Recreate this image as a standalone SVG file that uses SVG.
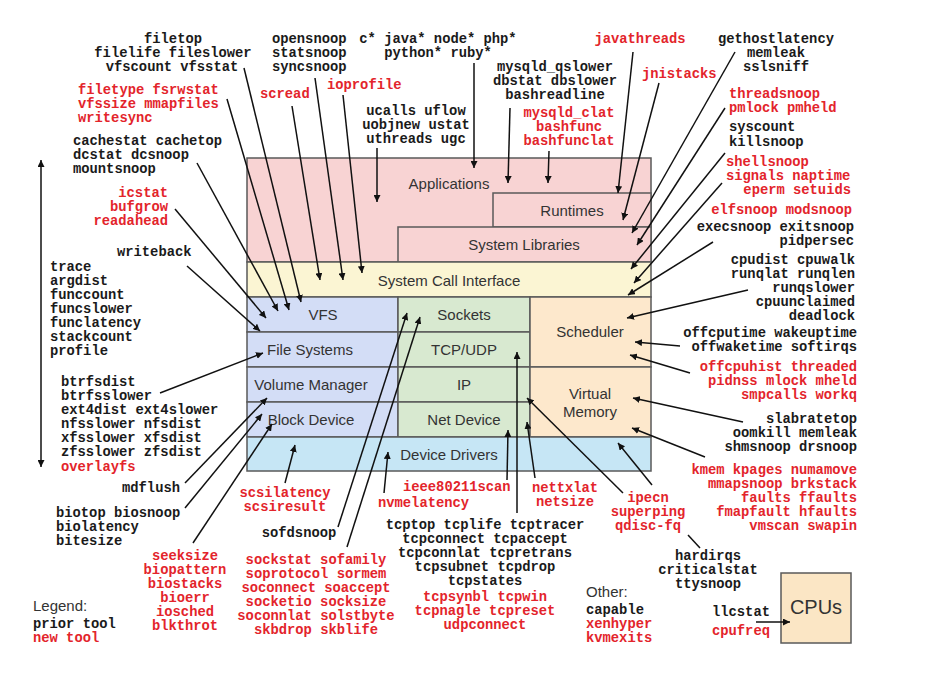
<svg xmlns="http://www.w3.org/2000/svg" width="942" height="674" viewBox="0 0 942 674">
<style>
.t{font-family:"Liberation Mono","DejaVu Sans Mono",monospace;font-weight:bold;font-size:13.8px;fill:#1a1a1a}
.r{fill:#e3242b}
.m{text-anchor:middle}
.e{text-anchor:end}
.l{font-family:"Liberation Sans",Arial,sans-serif;font-size:15px;fill:#333;text-anchor:middle}
.box{stroke:#5a5a5a;stroke-width:1.5}
.c line{stroke:#111;stroke-width:1.5;marker-end:url(#ah)}
</style>
<defs>
<marker id="ah" viewBox="0 0 10 10" refX="10" refY="5" markerWidth="7" markerHeight="7" orient="auto" markerUnits="userSpaceOnUse">
<path d="M0,0 L10,5 L0,10 z" fill="#111"/>
</marker>
</defs>
<rect width="942" height="674" fill="#fff"/>

<g id="applications"><rect class="box" x="247" y="158" width="404" height="104" fill="#f8d3d3"/><text class="l" x="449" y="189">Applications</text></g>
<g id="runtimes"><rect class="box" x="493" y="193" width="158" height="34" fill="#f8d3d3"/><text class="l" x="572" y="216">Runtimes</text></g>
<g id="syslibs"><rect class="box" x="398" y="227" width="253" height="35" fill="#f8d3d3"/><text class="l" x="524" y="250">System Libraries</text></g>
<g id="sci"><rect class="box" x="247" y="262" width="404" height="35" fill="#fbf5d3"/><text class="l" x="449" y="286">System Call Interface</text></g>
<g id="vfs"><rect class="box" x="247" y="297" width="151" height="35" fill="#d3ddf6"/><text class="l" x="323" y="320">VFS</text></g>
<g id="fs"><rect class="box" x="247" y="332" width="151" height="35" fill="#d3ddf6"/><text class="l" x="310" y="355">File Systems</text></g>
<g id="volmgr"><rect class="box" x="247" y="367" width="151" height="35" fill="#d3ddf6"/><text class="l" x="311" y="390">Volume Manager</text></g>
<g id="blockdev"><rect class="box" x="247" y="402" width="151" height="35" fill="#d3ddf6"/><text class="l" x="311" y="425">Block Device</text></g>
<g id="sockets"><rect class="box" x="398" y="297" width="132" height="35" fill="#d8e9d0"/><text class="l" x="464" y="320">Sockets</text></g>
<g id="tcpudp"><rect class="box" x="398" y="332" width="132" height="35" fill="#d8e9d0"/><text class="l" x="464" y="355">TCP/UDP</text></g>
<g id="ip"><rect class="box" x="398" y="367" width="132" height="35" fill="#d8e9d0"/><text class="l" x="464" y="390">IP</text></g>
<g id="netdev"><rect class="box" x="398" y="402" width="132" height="35" fill="#d8e9d0"/><text class="l" x="464" y="425">Net Device</text></g>
<g id="scheduler"><rect class="box" x="530" y="297" width="121" height="70" fill="#fde8cc"/><text class="l" x="590" y="337">Scheduler</text></g>
<g id="vm"><rect class="box" x="530" y="367" width="121" height="70" fill="#fde8cc"/><text class="l" x="590" y="399">Virtual</text><text class="l" x="590" y="417">Memory</text></g>
<g id="drivers"><rect class="box" x="247" y="437" width="404" height="34" fill="#c6e6f5"/><text class="l" x="449" y="460">Device Drivers</text></g>
<g id="cpus"><rect class="box" x="781" y="573" width="70" height="70" fill="#fbe6c5"/><text class="l" x="816" y="614" style="font-size:20px">CPUs</text></g>

<g id="t-filetop" class="t m"><text x="173" y="43">filetop</text><text x="173" y="57">filelife fileslower</text><text x="172" y="71">vfscount vfsstat</text></g>
<g id="t-filetype" class="t r"><text x="78" y="94">filetype fsrwstat</text><text x="78" y="108">vfssize mmapfiles</text><text x="78" y="122">writesync</text></g>
<g id="t-cachestat" class="t"><text x="73" y="145">cachestat cachetop</text><text x="73" y="159">dcstat dcsnoop</text><text x="73" y="173">mountsnoop</text></g>
<g id="t-icstat" class="t r e"><text x="168" y="197">icstat</text><text x="168" y="211">bufgrow</text><text x="168" y="225">readahead</text></g>
<g id="t-writeback" class="t"><text x="117" y="256">writeback</text></g>
<g id="t-trace" class="t"><text x="50" y="271">trace</text><text x="50" y="285">argdist</text><text x="50" y="299">funccount</text><text x="50" y="313">funcslower</text><text x="50" y="327">funclatency</text><text x="50" y="341">stackcount</text><text x="50" y="355">profile</text></g>
<g id="t-btrfs" class="t"><text x="61" y="386">btrfsdist</text><text x="61" y="400">btrfsslower</text><text x="61" y="414">ext4dist ext4slower</text><text x="61" y="428">nfsslower nfsdist</text><text x="61" y="442">xfsslower xfsdist</text><text x="61" y="456">zfsslower zfsdist</text><text class="r" x="61" y="471">overlayfs</text></g>
<g id="t-mdflush" class="t e"><text x="180" y="492">mdflush</text></g>
<g id="t-biotop" class="t"><text x="56" y="517">biotop biosnoop</text><text x="56" y="531">biolatency</text><text x="56" y="545">bitesize</text></g>
<g id="t-seeksize" class="t r m"><text x="185" y="560">seeksize</text><text x="185" y="574">biopattern</text><text x="185" y="588">biostacks</text><text x="185" y="602">bioerr</text><text x="185" y="616">iosched</text><text x="185" y="630">blkthrot</text></g>
<g id="legend"><text x="33" y="611" style="font-family:'Liberation Sans',Arial,sans-serif;font-size:15px;fill:#333">Legend:</text><text class="t" x="33" y="628">prior tool</text><text class="t r" x="33" y="642">new tool</text></g>
<g id="t-opensnoop" class="t"><text x="272" y="43">opensnoop</text><text x="272" y="57">statsnoop</text><text x="272" y="71">syncsnoop</text></g>
<g id="t-scread" class="t r"><text x="260" y="98">scread</text></g>
<g id="t-ioprofile" class="t r"><text x="327" y="89">ioprofile</text></g>
<g id="t-lang" class="t m"><text x="438" y="43">c* java* node* php*</text><text x="438" y="57">python* ruby*</text></g>
<g id="t-ucalls" class="t m"><text x="416" y="115">ucalls uflow</text><text x="416" y="129">uobjnew ustat</text><text x="416" y="143">uthreads ugc</text></g>
<g id="t-mysqld" class="t m"><text x="555" y="71">mysqld_qslower</text><text x="555" y="85">dbstat dbslower</text><text x="555" y="99">bashreadline</text></g>
<g id="t-bashfunc" class="t r m"><text x="569" y="117">mysqld_clat</text><text x="569" y="131">bashfunc</text><text x="569" y="145">bashfunclat</text></g>
<g id="t-javathreads" class="t r m"><text x="640" y="43">javathreads</text></g>
<g id="t-jnistacks" class="t r"><text x="642" y="78">jnistacks</text></g>
<g id="t-gethost" class="t m"><text x="776" y="43">gethostlatency</text><text x="776" y="57">memleak</text><text x="776" y="71">sslsniff</text></g>
<g id="t-threadsnoop" class="t r"><text x="729" y="98">threadsnoop</text><text x="729" y="112">pmlock pmheld</text></g>
<g id="t-syscount" class="t"><text x="729" y="131">syscount</text><text x="729" y="146">killsnoop</text></g>
<g id="t-shellsnoop" class="t r"><text x="726" y="166">shellsnoop</text><text x="726" y="180">signals naptime</text><text x="851" y="194" class="e">eperm setuids</text></g>
<g id="t-elfsnoop" class="t r e"><text x="852" y="214">elfsnoop modsnoop</text></g>
<g id="t-execsnoop" class="t e"><text x="854" y="231">execsnoop exitsnoop</text><text x="854" y="245">pidpersec</text></g>
<g id="t-cpudist" class="t e"><text x="855" y="264">cpudist cpuwalk</text><text x="855" y="278">runqlat runqlen</text><text x="855" y="292">runqslower</text><text x="855" y="306">cpuunclaimed</text><text x="855" y="320">deadlock</text></g>
<g id="t-offcpu" class="t e"><text x="857" y="337">offcputime wakeuptime</text><text x="857" y="351">offwaketime softirqs</text></g>
<g id="t-offcpuhist" class="t r e"><text x="857" y="371">offcpuhist threaded</text><text x="857" y="385">pidnss mlock mheld</text><text x="857" y="399">smpcalls workq</text></g>
<g id="t-slab" class="t e"><text x="857" y="423">slabratetop</text><text x="857" y="437">oomkill memleak</text><text x="857" y="451">shmsnoop drsnoop</text></g>
<g id="t-kmem" class="t r e"><text x="857" y="474">kmem kpages numamove</text><text x="857" y="488">mmapsnoop brkstack</text><text x="857" y="502">faults ffaults</text><text x="857" y="516">fmapfault hfaults</text><text x="857" y="530">vmscan swapin</text></g>
<g id="t-scsi" class="t r m"><text x="285" y="497">scsilatency</text><text x="285" y="511">scsiresult</text></g>
<g id="t-sofdsnoop" class="t m"><text x="299" y="537">sofdsnoop</text></g>
<g id="t-sockstat" class="t r m"><text x="316" y="564">sockstat sofamily</text><text x="316" y="578">soprotocol sormem</text><text x="316" y="592">soconnect soaccept</text><text x="316" y="606">socketio socksize</text><text x="316" y="620">soconnlat solstbyte</text><text x="316" y="634">skbdrop skblife</text></g>
<g id="t-ieee" class="t r"><text x="403" y="491">ieee80211scan</text></g>
<g id="t-nvme" class="t r"><text x="378" y="507">nvmelatency</text></g>
<g id="t-tcp" class="t m"><text x="485" y="529">tcptop tcplife tcptracer</text><text x="485" y="543">tcpconnect tcpaccept</text><text x="485" y="557">tcpconnlat tcpretrans</text><text x="485" y="571">tcpsubnet tcpdrop</text><text x="485" y="585">tcpstates</text><text class="r" x="485" y="601">tcpsynbl tcpwin</text><text class="r" x="485" y="615">tcpnagle tcpreset</text><text class="r" x="485" y="629">udpconnect</text></g>
<g id="t-nettxlat" class="t r m"><text x="565" y="492">nettxlat</text><text x="565" y="506">netsize</text></g>
<g id="t-ipecn" class="t r m"><text x="648" y="502">ipecn</text><text x="648" y="516">superping</text><text x="648" y="530">qdisc-fq</text></g>
<g id="t-hardirqs" class="t m"><text x="708" y="560">hardirqs</text><text x="708" y="574">criticalstat</text><text x="708" y="588">ttysnoop</text></g>
<g id="t-other"><text x="586" y="597" style="font-family:'Liberation Sans',Arial,sans-serif;font-size:15px;fill:#333">Other:</text><text class="t" x="586" y="614">capable</text><text class="t r" x="586" y="628">xenhyper</text><text class="t r" x="586" y="642">kvmexits</text></g>
<g id="t-llcstat" class="t"><text x="712" y="616">llcstat</text><text class="r" x="712" y="635">cpufreq</text></g>

<g id="connectors" class="c">
<line x1="41" y1="313" x2="41" y2="160"/><line x1="41" y1="313" x2="41" y2="467"/>
<line x1="244" y1="68" x2="301" y2="302"/>
<line x1="227" y1="99" x2="289" y2="310"/>
<line x1="197" y1="163" x2="278" y2="311"/>
<line x1="175" y1="209" x2="266" y2="318"/>
<line x1="187" y1="266" x2="260" y2="331"/>
<line x1="160" y1="393" x2="263" y2="353"/>
<line x1="185" y1="483" x2="267" y2="398"/>
<line x1="185" y1="508" x2="262" y2="414"/>
<line x1="193" y1="543" x2="272" y2="424"/>
<line x1="285" y1="483" x2="295" y2="445"/>
<line x1="338" y1="527" x2="407" y2="313"/>
<line x1="347" y1="547" x2="420" y2="317"/>
<line x1="384" y1="493" x2="388" y2="452"/>
<line x1="507" y1="480" x2="508" y2="430"/>
<line x1="517" y1="513" x2="517" y2="352"/>
<line x1="535" y1="478" x2="527" y2="422"/>
<line x1="623" y1="493" x2="527" y2="398"/>
<line x1="652" y1="485" x2="618" y2="443"/>
<line x1="705" y1="457" x2="632" y2="428"/>
<line x1="743" y1="422" x2="633" y2="398"/>
<line x1="690" y1="373" x2="630" y2="355"/>
<line x1="680" y1="346" x2="635" y2="342"/>
<line x1="748" y1="290" x2="627" y2="318"/>
<line x1="713" y1="242" x2="628" y2="295"/>
<line x1="722" y1="183" x2="634" y2="283"/>
<line x1="725" y1="153" x2="631" y2="269"/>
<line x1="725" y1="108" x2="637" y2="245"/>
<line x1="735" y1="52" x2="632" y2="233"/>
<line x1="659" y1="83" x2="623" y2="220"/>
<line x1="633" y1="52" x2="618" y2="193"/>
<line x1="549" y1="151" x2="548" y2="183"/>
<line x1="510" y1="108" x2="508" y2="183"/>
<line x1="474" y1="63" x2="474" y2="168"/>
<line x1="377" y1="148" x2="377" y2="202"/>
<line x1="343" y1="95" x2="362" y2="273"/>
<line x1="315" y1="78" x2="343" y2="280"/>
<line x1="292" y1="106" x2="320" y2="280"/>
<line x1="756" y1="622" x2="790" y2="622"/>
<line x1="700" y1="548" x2="688" y2="535" style="marker-end:none"/>
</g>
</svg>
